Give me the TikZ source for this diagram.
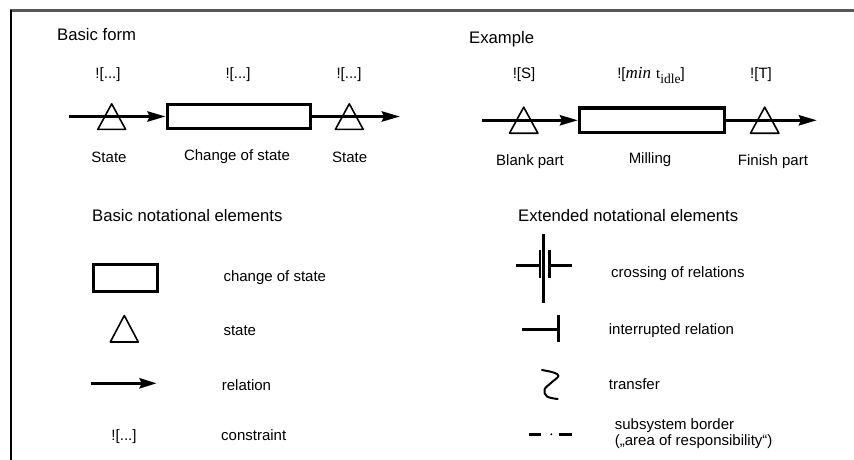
\documentclass[tikz,border=0pt]{standalone}
\usepackage{fontspec}
\setmainfont{Liberation Sans}
\newfontfamily\serifface{Liberation Serif}
\usetikzlibrary{arrows.meta}

\begin{document}
\begin{tikzpicture}[x=1pt,y=-1pt,
  lbl/.style={inner sep=0pt, anchor=base, font=\fontsize{15}{18}\selectfont},
  lbll/.style={lbl, anchor=base west},
  head/.style={inner sep=0pt, anchor=base west, font=\fontsize{16.7}{20}\selectfont},
  rel/.style={line width=3.4pt, -{Stealth[length=18pt,width=10pt,inset=2pt]}},
  cbox/.style={draw, rectangle, line width=3.3pt, inner sep=0pt},
  tri/.style={line width=1.6pt, line join=round},
  sym/.style={line width=3pt},
]
\useasboundingbox (0,0) rectangle (854,460);

% frame edges
\draw[line width=2.5pt, black!65] (10,10.7) -- (854,10.7);
\draw[line width=2pt] (11,10) -- (11,460);

% ---------- basic form ----------
\node[head] (hbasic) at (57,41) {Basic form};
\coordinate (bs) at (69,116.5);
\coordinate (be) at (400,116.5);
\node[cbox, minimum width=143.4pt, minimum height=24.3pt] (bchg) at (239,116.5) {};
\draw[rel] (bs) -- (bchg.west);
\draw[rel] (bchg.east) -- (be);
\coordinate (bst1) at (111.7,103.8);
\coordinate (bst2) at (349.3,103.8);
\draw[tri] (bst1) -- ++(-13.9,25.6) -- ++(27.8,0) -- cycle;
\draw[tri] (bst2) -- ++(-13.9,25.6) -- ++(27.8,0) -- cycle;
\node[lbl] (bc1) at (108,78.5) {![...]};
\node[lbl] (bc2) at (238,78.5) {![...]};
\node[lbl] (bc3) at (349,78.5) {![...]};
\node[lbl] (bl1) at (109,162.5) {State};
\node[lbl] (bl2) at (237,160.5) {Change of state};
\node[lbl] (bl3) at (349.7,162.5) {State};

% ---------- example ----------
\node[head] (hex) at (469,43.5) {Example};
\coordinate (es) at (482,120.3);
\coordinate (ee) at (817,120.3);
\node[cbox, minimum width=144.6pt, minimum height=24.6pt] (echg) at (652,120.3) {};
\draw[rel] (es) -- (echg.west);
\draw[rel] (echg.east) -- (ee);
\coordinate (est1) at (523.7,107.2);
\coordinate (est2) at (764.7,107.2);
\draw[tri] (est1) -- ++(-14.2,26) -- ++(28.4,0) -- cycle;
\draw[tri] (est2) -- ++(-14.2,26) -- ++(28.4,0) -- cycle;
\node[lbl] (ec1) at (524,78.5) {![S]};
\node[lbl] (ec2) at (651,78.5) {![{\serifface\itshape\fontsize{17}{20}\selectfont min}\hspace{5pt}{\serifface t\raisebox{-5pt}{\fontsize{13.5}{16}\selectfont idle}}]};
\node[lbl] (ec3) at (761,78.5) {![T]};
\node[lbl] (el1) at (530,165.7) {Blank part};
\node[lbl] (el2) at (650,163.4) {Milling};
\node[lbl] (el3) at (773,165.7) {Finish part};

% ---------- basic notational elements ----------
\node[head] (hbne) at (92,221) {Basic notational elements};
\node[cbox, minimum width=64.3pt, minimum height=27pt] (lchg) at (125.5,277.7) {};
\node[lbll] (tchg) at (223.3,281) {change of state};
\coordinate (lst) at (124.3,315.5);
\draw[tri] (lst) -- ++(-14,26.5) -- ++(28,0) -- cycle;
\node[lbll] (tst) at (223.3,335) {state};
\coordinate (r0) at (90.7,383.3);
\coordinate (r1) at (156.7,383.3);
\draw[line width=3.4pt, -{Stealth[length=17pt,width=10pt,inset=2pt]}] (r0) -- (r1);
\node[lbll] (trel) at (221.7,390) {relation};
\node[lbl] (lcon) at (124,440) {![...]};
\node[lbll] (tcon) at (221,440.7) {constraint};

% ---------- extended notational elements ----------
\node[head] (hene) at (518,221) {Extended notational elements};
% crossing of relations
\draw[line width=2.7pt] (543.3,234) -- (543.3,303);
\draw[line width=2pt] (540.3,250) -- (540.3,278);
\draw[line width=3pt] (549.3,250) -- (549.3,278);
\draw[sym] (516,265) -- (540.3,265);
\draw[sym] (549.3,265) -- (572,265);
\node[lbll] (tcross) at (611,277.5) {crossing of relations};
% interrupted relation
\draw[sym] (522,329.3) -- (558.3,329.3);
\draw[sym] (558.3,315) -- (558.3,341.7);
\node[lbll] (tint) at (608.7,334) {interrupted relation};
% transfer
\draw[line width=2pt, line cap=round, line join=round]
  plot[smooth, tension=0.6] coordinates {(542,370) (553.5,372.5) (558.5,376) (551.5,382.5) (544.5,389.5) (547,396.5) (557.7,399)};
\node[lbll] (ttr) at (608.7,389) {transfer};
% subsystem border
\draw[sym] (528.7,434.3) -- (541.3,434.3);
\fill (551.3,434.3) circle (1.1pt);
\draw[sym] (558.7,434.3) -- (572,434.3);
\node[lbll] (tsub1) at (614.7,429) {subsystem border};
\node[lbll] (tsub2) at (614.7,445) {(„area of responsibility“)};
\end{tikzpicture}
\end{document}
